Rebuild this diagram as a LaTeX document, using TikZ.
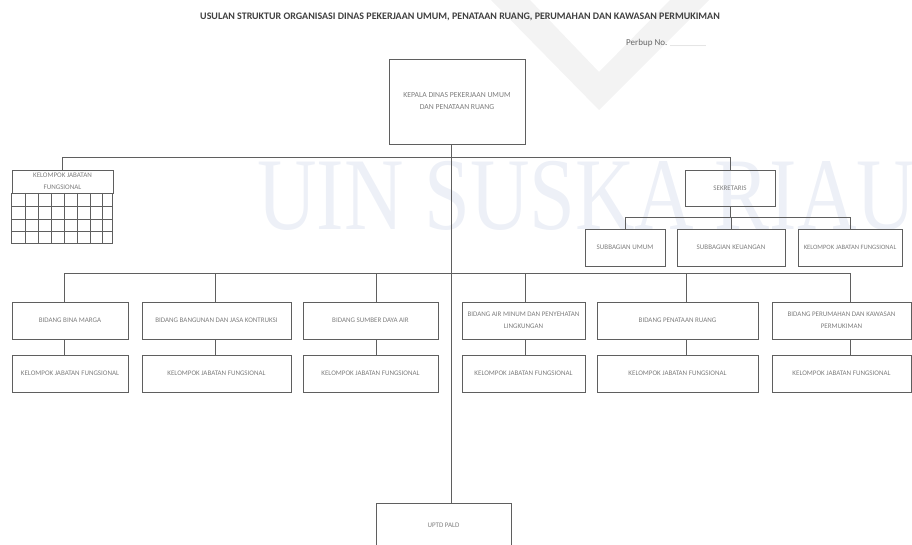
\documentclass[tikz,border=0pt]{standalone}
\usepackage{fontspec}
\setmainfont{Carlito}
\newfontfamily\markfont{Liberation Serif}
\usetikzlibrary{positioning}
\definecolor{linegray}{RGB}{95,95,95}
\definecolor{textgray}{RGB}{125,125,125}
\definecolor{markgray}{RGB}{243,243,243}
\definecolor{markblue}{RGB}{237,240,247}

\begin{document}
\begin{tikzpicture}
  [
    x=1pt, y=-1pt,
    Box/.style={rectangle, draw=linegray, line width=0.9pt, inner sep=1pt, align=center, text=textgray, font=\fontsize{7}{12}\selectfont},
    Link/.style={draw=linegray, line width=0.9pt},
    Mark/.style={text=markblue, font=\markfont\fontsize{103}{103}\selectfont}
  ]
  \useasboundingbox (0,0) rectangle (912,545);
  % Watermark
  \fill[markgray, even odd rule] (491,0) -- (709,0) -- (599,110) -- cycle
    (530,0) -- (670,0) -- (599,72) -- cycle;
  \node[Mark, anchor=base west, inner sep=0pt] (mark) at (257,230) {\scalebox{0.8}[1]{UIN SUSKA RIAU}};
  % Title
  \node[text=black!75, font=\bfseries\fontsize{10}{12}\selectfont] (title) at (460,17) {USULAN STRUKTUR ORGANISASI DINAS PEKERJAAN UMUM, PENATAAN RUANG, PERUMAHAN DAN KAWASAN PERMUKIMAN};
  \node[text=black!60, font=\fontsize{9}{11}\selectfont, anchor=west, inner sep=0pt] (perbup) at (626,43) {Perbup No. \raisebox{-0.2ex}{\fontsize{4}{4}\selectfont ....................................}};
  % Nodes
  \node[Box, font=\fontsize{7.7}{12}\selectfont, minimum width=136pt, minimum height=85pt] (kepala) at (457,101.5) {KEPALA DINAS PEKERJAAN UMUM\\DAN PENATAAN RUANG};
  \node[Box, minimum width=101pt, minimum height=23pt] (kjfTop) at (62.5,181.5) {KELOMPOK JABATAN\\FUNGSIONAL};
  \node[Box, minimum width=90pt, minimum height=36pt] (sekretaris) at (730,188) {SEKRETARIS};
  \node[Box, minimum width=80pt, minimum height=37pt] (subUmum) at (625,247.5) {SUBBAGIAN UMUM};
  \node[Box, minimum width=108pt, minimum height=37pt] (subKeu) at (731,247.5) {SUBBAGIAN KEUANGAN};
  \node[Box, font=\fontsize{6.6}{12}\selectfont, minimum width=104pt, minimum height=37pt] (subKjf) at (850,247.5) {KELOMPOK JABATAN FUNGSIONAL};
  \node[Box, minimum width=116pt, minimum height=37pt] (bidMarga) at (70,320.5) {BIDANG BINA MARGA};
  \node[Box, minimum width=149pt, minimum height=37pt] (bidBangun) at (216.5,320.5) {BIDANG BANGUNAN DAN JASA KONTRUKSI};
  \node[Box, minimum width=135pt, minimum height=37pt] (bidAir) at (370.5,320.5) {BIDANG SUMBER DAYA AIR};
  \node[Box, minimum width=123pt, minimum height=37pt] (bidMinum) at (523.5,320.5) {BIDANG AIR MINUM DAN PENYEHATAN\\LINGKUNGAN};
  \node[Box, minimum width=161pt, minimum height=37pt] (bidRuang) at (677.5,320.5) {BIDANG PENATAAN RUANG};
  \node[Box, minimum width=139pt, minimum height=37pt] (bidRumah) at (841.5,320.5) {BIDANG PERUMAHAN DAN KAWASAN\\PERMUKIMAN};
  \node[Box, minimum width=116pt, minimum height=37pt] (kjfMarga) at (70,373.5) {KELOMPOK JABATAN FUNGSIONAL};
  \node[Box, minimum width=149pt, minimum height=37pt] (kjfBangun) at (216.5,373.5) {KELOMPOK JABATAN FUNGSIONAL};
  \node[Box, minimum width=135pt, minimum height=37pt] (kjfAir) at (370.5,373.5) {KELOMPOK JABATAN FUNGSIONAL};
  \node[Box, minimum width=123pt, minimum height=37pt] (kjfMinum) at (523.5,373.5) {KELOMPOK JABATAN FUNGSIONAL};
  \node[Box, minimum width=161pt, minimum height=37pt] (kjfRuang) at (677.5,373.5) {KELOMPOK JABATAN FUNGSIONAL};
  \node[Box, minimum width=139pt, minimum height=37pt] (kjfRumah) at (841.5,373.5) {KELOMPOK JABATAN FUNGSIONAL};
  \node[Box, minimum width=135pt, minimum height=44pt] (uptd) at (443.5,525) {UPTD PALD};
  % Grid under the top group
  \draw[Link] (kjfTop.south west) rectangle ++(101,50);
  \foreach \gx in {25,38,51,64,77,90,102}
    \draw[Link, line width=0.6pt] (\gx,193) -- (\gx,243);
  \foreach \gy in {206,219,231}
    \draw[Link, line width=0.6pt] (12,\gy) -- (113,\gy);
  % Lines
  \coordinate (busTop) at (451,157);
  \coordinate (busSek) at (729,217);
  \coordinate (busBid) at (451,273);
  \path[Link] ([xshift=-6pt]kepala.south) -- ([xshift=7.5pt]uptd.north);
  \path[Link] (kjfTop.north) -- (kjfTop.north |- busTop) -- (sekretaris.north |- busTop) -- (sekretaris.north);
  \path[Link] (sekretaris.south) -- (sekretaris.south |- busSek);
  \path[Link] (subUmum.north) -- (subUmum.north |- busSek) -- (subKjf.north |- busSek) -- (subKjf.north);
  \path[Link] (subKeu.north) -- (subKeu.north |- busSek);
  \path[Link] ([xshift=-6pt]bidMarga.north |- busBid) -- ([xshift=8.5pt]bidRumah.north |- busBid);
  \foreach \b/\dx in {Marga/-6, Bangun/-1.5, Air/5.5, Minum/1.5, Ruang/8.5, Rumah/8.5}
    \path[Link] ([xshift=\dx pt]bid\b.north |- busBid) -- ([xshift=\dx pt]bid\b.north)
      ([xshift=\dx pt]bid\b.south) -- ([xshift=\dx pt]kjf\b.north);
\end{tikzpicture}
\end{document}
